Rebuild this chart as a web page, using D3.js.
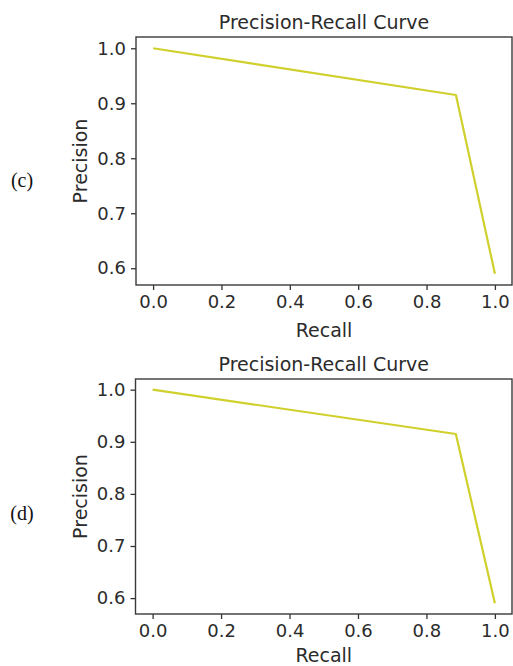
<!DOCTYPE html>
<html>
<head>
<meta charset="UTF-8">
<script src="https://d3js.org/d3.v7.min.js"></script>
<style>
  body { margin: 0; background: #fff; }
  .tick text { fill: #2b2b2b; }
  .tick line { stroke: #333; }
</style>
</head>
<body>
<script>
// values
var panelNames = ["(c)", "(d)"];
var recallC = [0.0, 0.886, 1.0];
var precisionC = [1.0, 0.915, 0.59];
var recallD = [0.0, 0.886, 1.0];
var precisionD = [1.0, 0.915, 0.59];
var xTicks = [0.0, 0.2, 0.4, 0.6, 0.8, 1.0];
var yTicks = [0.6, 0.7, 0.8, 0.9, 1.0];
var titleText = "Precision-Recall Curve";
var xLabel = "Recall";
var yLabel = "Precision";

var W = 513, H = 666;
var font = "DejaVu Sans";

var svg = d3.select("body").append("svg")
    .attr("width", W)
    .attr("height", H);

// panel frames in page pixels
var panels = [
    { name: panelNames[0], recall: recallC, precision: precisionC,
      left: 136, right: 512, top: 37, bottom: 285, xlab: 52, tag: 187 },
    { name: panelNames[1], recall: recallD, precision: precisionD,
      left: 135.5, right: 512, top: 379, bottom: 614, xlab: 48, tag: 520 }
];

panels.forEach(function(p) {
    var pts = p.recall.map(function(r, i) { return { r: r, p: p.precision[i] }; });

    // matplotlib-style 5% margins
    var xr = d3.extent(pts, function(d) { return d.r; });
    var yr = d3.extent(pts, function(d) { return d.p; });
    var xm = (xr[1] - xr[0]) * 0.05, ym = (yr[1] - yr[0]) * 0.05;

    var x = d3.scaleLinear().domain([xr[0] - xm, xr[1] + xm]).range([p.left, p.right]);
    var y = d3.scaleLinear().domain([yr[0] - ym, yr[1] + ym]).range([p.bottom, p.top]);

    var g = svg.append("g");

    // x axis
    g.append("g")
        .attr("transform", "translate(0," + p.bottom + ")")
        .call(d3.axisBottom(x).tickValues(xTicks).tickFormat(d3.format(".1f")).tickSize(5).tickPadding(5))
        .call(function(a) {
            a.select(".domain").remove();
            a.selectAll("text").style("font-family", font).style("font-size", "18px");
            a.selectAll("line").style("stroke-width", 1.3);
        });

    // y axis
    g.append("g")
        .attr("transform", "translate(" + p.left + ",0)")
        .call(d3.axisLeft(y).tickValues(yTicks).tickFormat(d3.format(".1f")).tickSize(5).tickPadding(5))
        .call(function(a) {
            a.select(".domain").remove();
            a.selectAll("text").style("font-family", font).style("font-size", "18px");
            a.selectAll("line").style("stroke-width", 1.3);
        });

    // the curve
    var line = d3.line()
        .x(function(d) { return x(d.r); })
        .y(function(d) { return y(d.p); });

    g.append("path")
        .datum(pts)
        .attr("d", line)
        .attr("fill", "none")
        .attr("stroke", "#cfd02c")
        .attr("stroke-width", 2.2)
        .attr("stroke-linejoin", "round");

    // frame
    g.append("rect")
        .attr("x", p.left)
        .attr("y", p.top)
        .attr("width", p.right - p.left)
        .attr("height", p.bottom - p.top)
        .attr("fill", "none")
        .attr("stroke", "#3a3a3a")
        .attr("stroke-width", 1.4);

    var cx = (p.left + p.right) / 2;

    g.append("text")
        .attr("x", cx)
        .attr("y", p.top - 8)
        .attr("text-anchor", "middle")
        .style("font-family", font)
        .style("font-size", "19px")
        .style("fill", "#2b2b2b")
        .text(titleText);

    g.append("text")
        .attr("x", cx)
        .attr("y", p.bottom + p.xlab)
        .attr("text-anchor", "middle")
        .style("font-family", font)
        .style("font-size", "19px")
        .style("fill", "#2b2b2b")
        .text(xLabel);

    g.append("text")
        .attr("transform", "translate(87," + ((p.top + p.bottom) / 2) + ") rotate(-90)")
        .attr("text-anchor", "middle")
        .style("font-family", font)
        .style("font-size", "19px")
        .style("fill", "#2b2b2b")
        .text(yLabel);

    g.append("text")
        .attr("x", 22)
        .attr("y", p.tag)
        .attr("text-anchor", "middle")
        .style("font-family", "Liberation Serif")
        .style("font-size", "20px")
        .style("fill", "#111")
        .text(p.name);
});
</script>
</body>
</html>
